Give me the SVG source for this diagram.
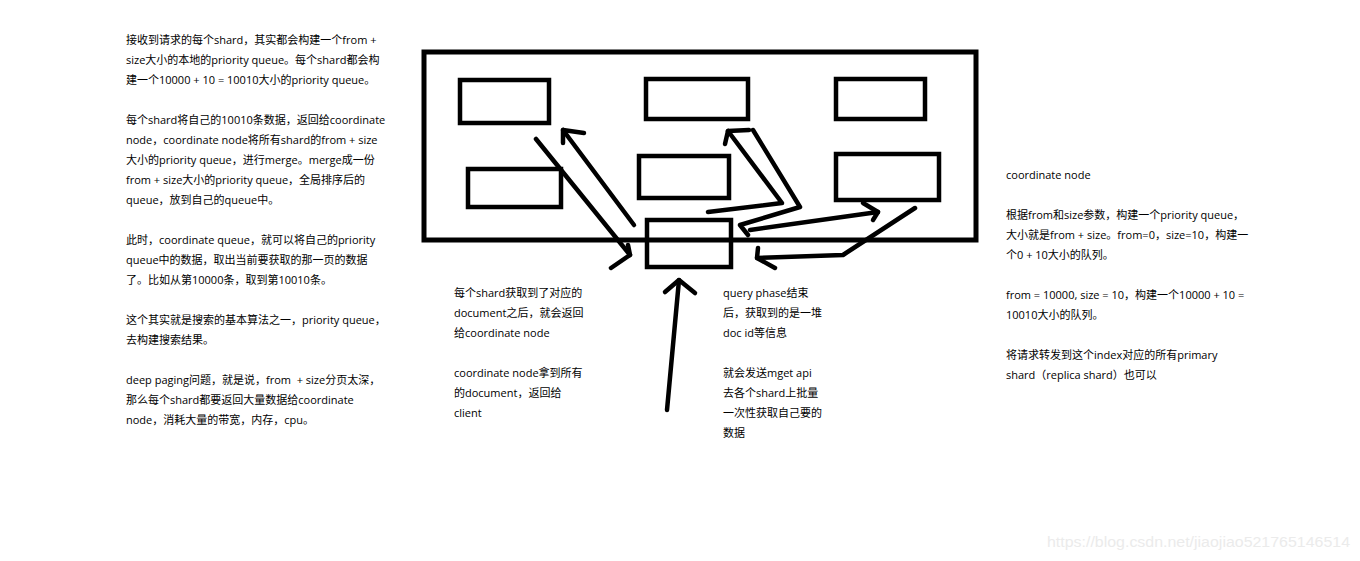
<svg xmlns="http://www.w3.org/2000/svg" width="1360" height="561" viewBox="0 0 1360 561">
<style>
.box{fill:none;stroke:#000;stroke-width:4.5}
.outer{fill:none;stroke:#000;stroke-width:5}
.ln{fill:none;stroke:#000;stroke-width:4.5;stroke-linecap:round;stroke-linejoin:round}
.t{font-family:"Open Sans","Noto Sans CJK SC",sans-serif;font-size:11px;fill:#000}
.wm{font-family:"Liberation Sans",Arial,sans-serif;font-size:14px;fill:#ebebeb}
</style>
<rect width="1360" height="561" fill="#fff"/>
<g id="cluster"><rect class="outer" x="424" y="52" width="552" height="188"/></g>
<g id="shard-1"><rect class="box" x="460" y="80" width="89" height="43"/></g>
<g id="shard-2"><rect class="box" x="646" y="79" width="102" height="40"/></g>
<g id="shard-3"><rect class="box" x="836" y="79" width="89" height="40"/></g>
<g id="shard-4"><rect class="box" x="468" y="169" width="93" height="38"/></g>
<g id="shard-5"><rect class="box" x="639" y="156" width="90" height="42"/></g>
<g id="shard-6"><rect class="box" x="836" y="154" width="103" height="46"/></g>
<g id="coordinate-node"><rect class="box" x="647" y="220" width="84" height="47"/></g>
<g id="connectors">
<polyline class="ln" points="536,139 630,255"/>
<polyline class="ln" points="628,245 630,255 611,268"/>
<polyline class="ln" points="634,225 563,130"/>
<polyline class="ln" points="563,143 563,130 584,133"/>
<polyline class="ln" points="708,212 782,203 728,131"/>
<polyline class="ln" points="725,144 728,131 749,130"/>
<polyline class="ln" points="753,130 800,207 740,225 748,235"/>
<polyline class="ln" points="750,230 878,212"/>
<polyline class="ln" points="863,203 878,212 873,220"/>
<polyline class="ln" points="915,208 843,255 757,258"/>
<polyline class="ln" points="758,248 757,258 775,268"/>
<polyline class="ln" points="667,410 679,280"/>
<polyline class="ln" points="665,292 679,280 695,293"/>
</g>
<g id="note-left">
<text class="t" x="126" y="44">接收到请求的每个shard，其实都会构建一个from +</text>
<text class="t" x="126" y="64">size大小的本地的priority queue。每个shard都会构</text>
<text class="t" x="126" y="84">建一个10000 + 10 = 10010大小的priority queue。</text>
<text class="t" x="126" y="124">每个shard将自己的10010条数据，返回给coordinate</text>
<text class="t" x="126" y="144">node，coordinate node将所有shard的from + size</text>
<text class="t" x="126" y="164">大小的priority queue，进行merge。merge成一份</text>
<text class="t" x="126" y="184">from + size大小的priority queue，全局排序后的</text>
<text class="t" x="126" y="204">queue，放到自己的queue中。</text>
<text class="t" x="126" y="244">此时，coordinate queue，就可以将自己的priority</text>
<text class="t" x="126" y="264">queue中的数据，取出当前要获取的那一页的数据</text>
<text class="t" x="126" y="284">了。比如从第10000条，取到第10010条。</text>
<text class="t" x="126" y="324">这个其实就是搜索的基本算法之一，priority queue，</text>
<text class="t" x="126" y="344">去构建搜索结果。</text>
<text class="t" x="126" y="384" xml:space="preserve">deep paging问题，就是说，from  + size分页太深，</text>
<text class="t" x="126" y="404">那么每个shard都要返回大量数据给coordinate</text>
<text class="t" x="126" y="424">node，消耗大量的带宽，内存，cpu。</text>
</g>
<g id="note-fetch">
<text class="t" x="454" y="297">每个shard获取到了对应的</text>
<text class="t" x="454" y="317">document之后，就会返回</text>
<text class="t" x="454" y="337">给coordinate node</text>
<text class="t" x="454" y="377">coordinate node拿到所有</text>
<text class="t" x="454" y="397">的document，返回给</text>
<text class="t" x="454" y="417">client</text>
</g>
<g id="note-query">
<text class="t" x="723" y="297">query phase结束</text>
<text class="t" x="723" y="317">后，获取到的是一堆</text>
<text class="t" x="723" y="337">doc id等信息</text>
<text class="t" x="723" y="377">就会发送mget api</text>
<text class="t" x="723" y="397">去各个shard上批量</text>
<text class="t" x="723" y="417">一次性获取自己要的</text>
<text class="t" x="723" y="437">数据</text>
</g>
<g id="note-right">
<text class="t" x="1006" y="179">coordinate node</text>
<text class="t" x="1006" y="219">根据from和size参数，构建一个priority queue，</text>
<text class="t" x="1006" y="239">大小就是from + size。from=0，size=10，构建一</text>
<text class="t" x="1006" y="259">个0 + 10大小的队列。</text>
<text class="t" x="1006" y="299">from = 10000, size = 10，构建一个10000 + 10 =</text>
<text class="t" x="1006" y="319">10010大小的队列。</text>
<text class="t" x="1006" y="359">将请求转发到这个index对应的所有primary</text>
<text class="t" x="1006" y="379">shard（replica shard）也可以</text>
</g>
<text class="wm" x="1047" y="547" textLength="303" lengthAdjust="spacingAndGlyphs">https://blog.csdn.net/jiaojiao521765146514</text>
</svg>
